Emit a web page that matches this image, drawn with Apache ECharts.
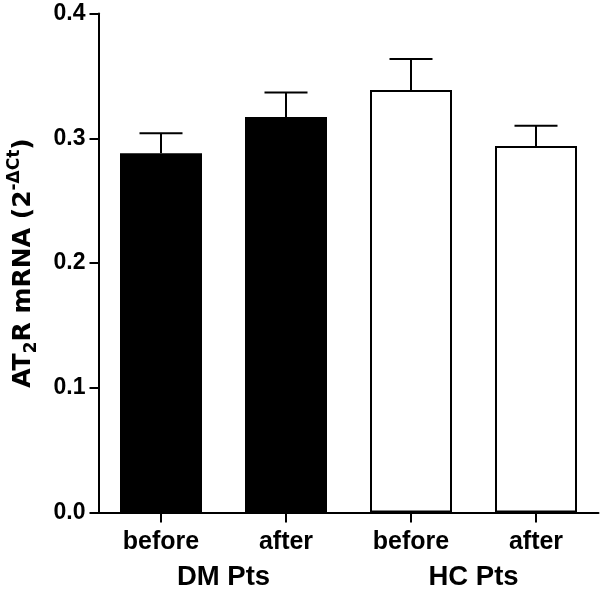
<!DOCTYPE html>
<html>
<head>
<meta charset="utf-8">
<script src="https://cdn.jsdelivr.net/npm/echarts@6/dist/echarts.min.js"></script>
<style>html,body{margin:0;padding:0;background:#fff}#c{width:600px;height:593px}</style>
</head>
<body>
<div id="c"></div>
<script>
var categories = ['before', 'after', 'before', 'after'];
var groups = ['DM Pts', 'HC Pts'];
var means = [0.288, 0.317, 0.3387, 0.2937];
var sems = [0.016, 0.0196, 0.0248, 0.0163];
var fills = ['#000000', '#000000', '#ffffff', '#ffffff'];
var yTicks = { min: 0, max: 0.4, interval: 0.1 };

var FONT = 'Liberation Sans';
var TFONT = 'DejaVu Sans';
var chart = echarts.init(document.getElementById('c'), null, { renderer: 'canvas' });

var barData = means.map(function (v, i) {
  return {
    value: v,
    itemStyle: {
      color: fills[i],
      borderColor: '#000',
      borderWidth: fills[i] === '#ffffff' ? 2 : 0
    }
  };
});
var errData = means.map(function (v, i) { return [i, v, v + sems[i]]; });

chart.setOption({
  animation: false,
  backgroundColor: '#ffffff',
  grid: { left: 98.5, right: 1.5, top: 13.5, bottom: 80.5, containLabel: false, outerBoundsMode: 'none' },
  xAxis: [{
    type: 'category',
    position: 'bottom',
    data: categories,
    axisLine: { show: true, lineStyle: { color: '#000', width: 2 } },
    axisTick: { show: true, alignWithLabel: true, length: 10, lineStyle: { color: '#000', width: 2 } },
    axisLabel: { color: '#000', fontFamily: FONT, fontWeight: 'bold', fontSize: 25, margin: 17.5 },
    splitLine: { show: false }
  }, {
    type: 'category',
    position: 'bottom',
    data: groups,
    axisLine: { show: false },
    axisTick: { show: false },
    axisLabel: { color: '#000', fontFamily: FONT, fontWeight: 'bold', fontSize: 27.5, margin: 51 },
    splitLine: { show: false }
  }],
  yAxis: {
    type: 'value',
    min: yTicks.min,
    max: yTicks.max,
    interval: yTicks.interval,
    axisLine: { show: true, lineStyle: { color: '#000', width: 2 } },
    axisTick: { show: true, length: 9, lineStyle: { color: '#000', width: 2 } },
    axisLabel: {
      color: '#000', fontFamily: FONT, fontWeight: 'bold', fontSize: 23, margin: 13,
      formatter: function (v) { return v.toFixed(1); }
    },
    splitLine: { show: false },
    name: '{m|AT}{sub|2}{m|R mRNA (2}{sup|-ΔCt}{m|)}',
    nameLocation: 'middle',
    nameRotate: 90,
    nameGap: 58,
    nameTextStyle: {
      color: '#000',
      fontFamily: TFONT,
      fontWeight: 'bold',
      fontSize: 25,
      rich: {
        m: { fontFamily: TFONT, fontWeight: 'bold', fontSize: 25, color: '#000', lineHeight: 34, verticalAlign: 'middle' },
        sub: { fontFamily: TFONT, fontWeight: 'bold', fontSize: 17, color: '#000', lineHeight: 17, verticalAlign: 'bottom' },
        sup: { fontFamily: TFONT, fontWeight: 'bold', fontSize: 17, color: '#000', lineHeight: 17, verticalAlign: 'top' }
      }
    }
  },
  series: [{
    type: 'bar',
    xAxisIndex: 0,
    data: barData,
    barWidth: 82,
    z: 2
  }, {
    type: 'custom',
    xAxisIndex: 0,
    data: errData,
    z: 3,
    renderItem: function (params, api) {
      var x = api.value(0);
      var p0 = api.coord([x, api.value(1)]);
      var p1 = api.coord([x, api.value(2)]);
      var half = 21.5;
      return {
        type: 'group',
        children: [{
          type: 'line',
          shape: { x1: p0[0], y1: p0[1], x2: p1[0], y2: p1[1] },
          style: { stroke: '#000', lineWidth: 2 }
        }, {
          type: 'line',
          shape: { x1: p1[0] - half, y1: p1[1], x2: p1[0] + half, y2: p1[1] },
          style: { stroke: '#000', lineWidth: 2 }
        }]
      };
    }
  }]
});
</script>
</body>
</html>
